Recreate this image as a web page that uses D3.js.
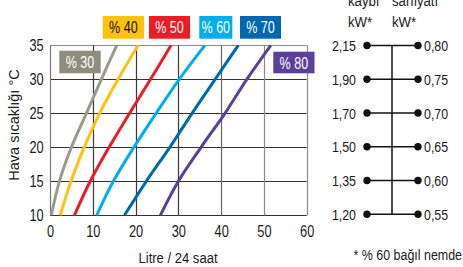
<!DOCTYPE html>
<html>
<head>
<meta charset="utf-8">
<script src="https://cdn.jsdelivr.net/npm/d3@7"></script>
<style>
  html, body { margin: 0; padding: 0; background: #fff; }
  svg { display: block; }
  text { font-family: "Liberation Sans", Arial, sans-serif; }
</style>
</head>
<body>
<svg id="chart" width="463" height="267"></svg>
<script>
// ---- data ----
const temps = [10, 15, 20, 25, 30, 35];
const seriesNames = ["% 30", "% 40", "% 50", "% 60", "% 70", "% 80"];
const s30 = [0.3, 2.2, 5.0, 8.5, 12.0, 15.6];
const s40 = [2.4, 4.9, 8.0, 11.6, 15.9, 20.6];
const s50 = [5.7, 9.4, 13.8, 18.6, 23.5, 28.3];
const s60 = [10.9, 14.8, 19.6, 24.8, 30.2, 36.2];
const s70 = [17.4, 22.5, 28.0, 33.2, 38.6, 44.0];
const s80 = [25.8, 30.0, 35.3, 40.9, 46.0, 51.6];
const seriesValues = [s30, s40, s50, s60, s70, s80];
const seriesColors = ["#9b9b8b", "#ffc20e", "#ed1c24", "#00aeef", "#0067b1", "#5c3f99"];
const labelBoxColors = ["#8e8e7e", "#ffc20e", "#ed1c24", "#00aeef", "#0067b1", "#5c3f99"];
const labelTextColors = ["#fff", "#111", "#fff", "#fff", "#fff", "#fff"];
const xTicks = [0, 10, 20, 30, 40, 50, 60];
const yTicks = [10, 15, 20, 25, 30, 35];
const lossValues = ["2,15", "1,90", "1,70", "1,50", "1,35", "1,20"];
const useValues = ["0,80", "0,75", "0,70", "0,65", "0,60", "0,55"];

// ---- layout ----
const svg = d3.select("#chart");
const x = d3.scaleLinear().domain([0, 60]).range([50, 306.7]);
const y = d3.scaleLinear().domain([10, 35]).range([215.3, 45.3]);
const INK = "#1a1a1a";

function txt(parent, px, py, str, o) {
  o = o || {};
  return parent.append("text")
    .attr("transform", `translate(${px},${py}) scale(${o.sx || 0.85},1)`)
    .attr("text-anchor", o.anchor || "start")
    .attr("font-size", o.size || 14)
    .attr("fill", o.fill || INK)
    .text(str);
}

// grid
const g = svg.append("g");
yTicks.forEach(t => {
  const col = (t === 35) ? "#8a8a8a" : "#333";
  g.append("line").attr("x1", x(0)).attr("x2", x(60))
    .attr("y1", Math.round(y(t)) + 0.5).attr("y2", Math.round(y(t)) + 0.5)
    .attr("stroke", col).attr("stroke-width", 1.2);
});
xTicks.forEach(t => {
  const col = t === 0 ? "#777" : (t <= 30 ? "#3a3a3a" : (t === 40 ? "#666" : "#8a8a8a"));
  g.append("line").attr("x1", Math.round(x(t)) + 0.5).attr("x2", Math.round(x(t)) + 0.5)
    .attr("y1", y(35)).attr("y2", y(10))
    .attr("stroke", col).attr("stroke-width", 1.2);
});

// axes (labels only)
const yAxis = d3.axisLeft(y).tickValues(yTicks).tickSize(0).tickPadding(8);
const ya = svg.append("g").attr("transform", `translate(${x(0)},0)`).call(yAxis);
ya.select(".domain").remove();
ya.selectAll("text").attr("font-size", 16).attr("fill", INK)
  .attr("transform", "scale(0.8,1)")
  .style("font-family", '"Liberation Sans", Arial, sans-serif');

const xAxis = d3.axisBottom(x).tickValues(xTicks).tickSize(0).tickPadding(10);
const xa = svg.append("g").attr("transform", `translate(0,${y(10)})`).call(xAxis);
xa.select(".domain").remove();
xa.selectAll("text").attr("font-size", 16).attr("fill", INK)
  .attr("transform", "scale(0.8,1)")
  .style("font-family", '"Liberation Sans", Arial, sans-serif');

// titles
svg.append("text").attr("transform", `translate(19,125) rotate(-90)`)
  .attr("text-anchor", "middle").attr("font-size", 14.5).attr("fill", INK)
  .text("Hava sıcaklığı °C");
txt(svg, 178, 263, "Litre / 24 saat", {anchor: "middle", size: 14.5, sx: 0.9});

// curves
const line = d3.line().x(d => x(d[0])).y(d => y(d[1])).curve(d3.curveCatmullRom.alpha(0.5));
seriesValues.forEach((vals, i) => {
  const pts = vals.map((v, k) => [v, temps[k]]);
  svg.append("path").attr("d", line(pts)).attr("fill", "none")
    .attr("stroke", seriesColors[i]).attr("stroke-width", 3);
});

// label boxes
const boxes = [
  {x0: 59.3, x1: 100.7, y0: 50.7, y1: 73.3},
  {x0: 102.7, x1: 144, y0: 16, y1: 38.7},
  {x0: 149, x1: 190, y0: 16, y1: 38.7},
  {x0: 199.3, x1: 232.3, y0: 16, y1: 38.7},
  {x0: 240, x1: 281, y0: 16, y1: 38.7},
  {x0: 273.3, x1: 314.5, y0: 51.7, y1: 73.3}
];
boxes.forEach((b, i) => {
  svg.append("rect").attr("x", b.x0).attr("y", b.y0)
    .attr("width", b.x1 - b.x0).attr("height", b.y1 - b.y0)
    .attr("fill", labelBoxColors[i]);
  txt(svg, (b.x0 + b.x1) / 2, (b.y0 + b.y1) / 2 + 6, seriesNames[i],
    {anchor: "middle", size: 16.5, sx: 0.76, fill: labelTextColors[i]});
});

// right panel
const r = d3.scaleLinear().domain([0, lossValues.length - 1]).range([45.5, 214.3]);
const xl = 367, xr = 418, xm = 392;
svg.append("line").attr("x1", xm).attr("x2", xm).attr("y1", r(0)).attr("y2", r(lossValues.length - 1))
  .attr("stroke", "#111").attr("stroke-width", 1.5);
lossValues.forEach((v, i) => {
  const yy = r(i);
  svg.append("line").attr("x1", xl).attr("x2", xr).attr("y1", yy).attr("y2", yy)
    .attr("stroke", "#111").attr("stroke-width", 1.5);
  svg.append("circle").attr("cx", xl).attr("cy", yy).attr("r", 3.7).attr("fill", "#111");
  svg.append("circle").attr("cx", xr).attr("cy", yy).attr("r", 3.7).attr("fill", "#111");
  txt(svg, 356, yy + 5.6, v, {anchor: "end", size: 15.5, sx: 0.8});
  txt(svg, 424, yy + 5.6, useValues[i], {anchor: "start", size: 15.5, sx: 0.8});
});
// headers (top partly outside the window, as in the reference)
txt(svg, 348, 6, "kaybı", {size: 15, sx: 0.88});
txt(svg, 348, 27, "kW*", {size: 15, sx: 0.88});
txt(svg, 392, 6, "sarfiyatı", {size: 15, sx: 0.88});
txt(svg, 392, 27, "kW*", {size: 15, sx: 0.88});

// footnote
txt(svg, 462, 259.5, "* % 60 bağıl nemde", {anchor: "end", size: 15, sx: 0.83});
</script>
</body>
</html>
